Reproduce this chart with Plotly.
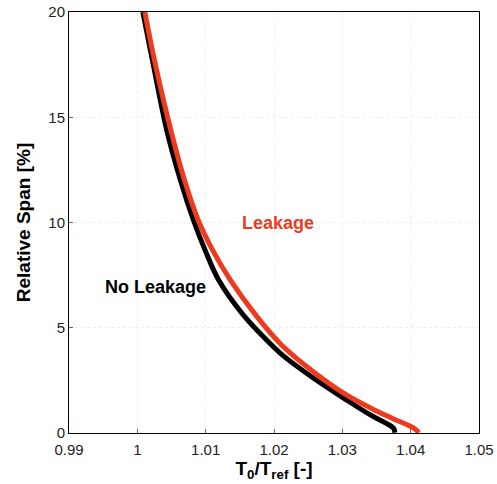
import plotly.graph_objects as go

# Radial profiles of normalised total temperature over the lower span
span_no_leak = [20.0, 17.72, 14.39, 12.02, 10.12, 8.70, 7.27, 5.61, 4.42, 3.71, 2.60, 1.57, 0.86, 0.48, 0.22, 0.02]
temp_no_leak = [1.0008, 1.0022, 1.0043, 1.0063, 1.0082, 1.0099, 1.0119, 1.0155, 1.0189, 1.0212, 1.0258, 1.0306, 1.0341, 1.0363, 1.0375, 1.0377]

span_leak = [20.0, 17.72, 14.39, 12.02, 10.12, 8.70, 7.27, 5.61, 4.18, 2.90, 1.81, 1.05, 0.67, 0.24, 0.01]
temp_leak = [1.0011, 1.0025, 1.0049, 1.0069, 1.0089, 1.0110, 1.0136, 1.0173, 1.0211, 1.0258, 1.0306, 1.0350, 1.0375, 1.0404, 1.0412]

x_ticks = [0.99, 1.0, 1.01, 1.02, 1.03, 1.04, 1.05]
x_tick_text = ["0.99", "1", "1.01", "1.02", "1.03", "1.04", "1.05"]
y_ticks = [0, 5, 10, 15, 20]

RED = "#ee3b1f"
FONT = "Liberation Sans, Arial"

fig = go.Figure()
fig.add_trace(go.Scatter(x=temp_no_leak, y=span_no_leak, mode="lines",
                         line=dict(color="black", width=5, shape="spline", smoothing=1.0),
                         showlegend=False))
fig.add_trace(go.Scatter(x=temp_leak, y=span_leak, mode="lines",
                         line=dict(color=RED, width=5, shape="spline", smoothing=1.0),
                         showlegend=False))

fig.add_annotation(x=1.0206, y=10.0, text="<b>Leakage</b>", showarrow=False,
                   font=dict(family=FONT, size=18, color=RED))
fig.add_annotation(x=1.0027, y=6.95, text="<b>No Leakage</b>", showarrow=False,
                   font=dict(family=FONT, size=18, color="black"))

axis_common = dict(showline=True, linecolor="black", linewidth=1, mirror=True,
                   ticks="inside", ticklen=4, tickcolor="#666",
                   showgrid=True, gridcolor="#eeeeee", griddash="dot", gridwidth=1,
                   zeroline=False, automargin=False,
                   tickfont=dict(family=FONT, size=15, color="#222"))

fig.update_xaxes(range=[0.99, 1.05], tickvals=x_ticks, ticktext=x_tick_text,
                 ticklabelstandoff=3,
                 title=dict(text="<b>T<sub>0</sub>/T<sub>ref</sub> [-]</b>", standoff=4,
                            font=dict(family=FONT, size=19, color="black")),
                 **axis_common)
fig.update_yaxes(range=[0, 20], tickvals=y_ticks,
                 title=dict(text="<b>Relative Span [%]</b>", standoff=12,
                            font=dict(family=FONT, size=19, color="black")),
                 **axis_common)

fig.update_layout(width=497, height=484, margin=dict(l=69, r=18, t=12, b=51),
                  plot_bgcolor="white", paper_bgcolor="white")

fig.write_html("out.html")
